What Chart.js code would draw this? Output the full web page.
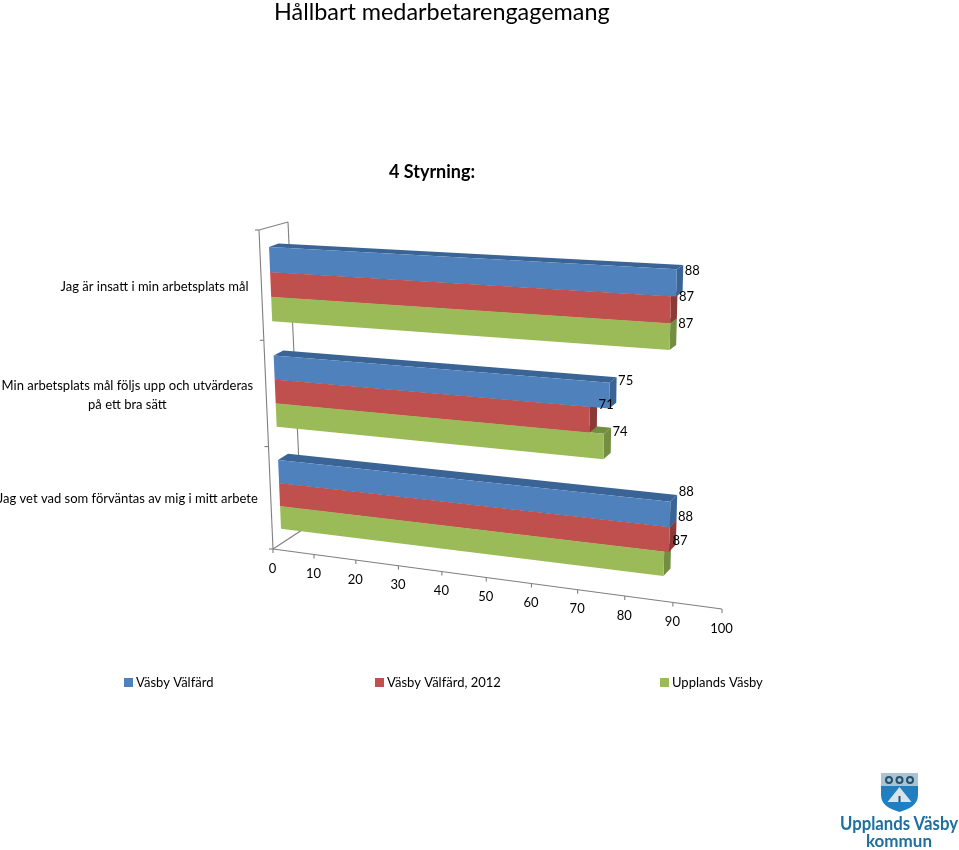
<!DOCTYPE html>
<html>
<head>
<meta charset="utf-8">
<title>Hållbart medarbetarengagemang</title>
<script src="https://cdn.jsdelivr.net/npm/chart.js@4"></script>
<style>
  html, body { margin: 0; padding: 0; background: #fff; }
  #wrap { position: relative; width: 959px; height: 850px; overflow: hidden; }
  #slideTitle { position: absolute; left: 274px; top: -3px; font: 23.4px Lato, sans-serif; color: #000; white-space: nowrap; }
  #logo { position: absolute; left: 838px; top: 770px; width: 121px; height: 80px; }
</style>
</head>
<body>
<div id="wrap">
  <canvas id="chart" width="959" height="850"></canvas>
  <div id="slideTitle">Hållbart medarbetarengagemang</div>
  <svg id="logo" viewBox="838 770 121 80">
    <path d="M881 773h37v22c0 10-9 14-18.500 17c-9.500-3-18.500-7-18.500-17z" fill="#1f7fc0"/>
    <rect x="881" y="773" width="37" height="13" fill="#a9c3d3"/>
    <circle cx="889" cy="780" r="3" fill="none" stroke="#24506e" stroke-width="2"/>
    <circle cx="899.500" cy="780" r="3" fill="none" stroke="#24506e" stroke-width="2"/>
    <circle cx="910" cy="780" r="3" fill="none" stroke="#24506e" stroke-width="2"/>
    <path d="M899.500 787l12 15h-24z" fill="#d9e4ea"/>
    <rect x="898.500" y="796" width="2" height="6" fill="#24506e"/>
    <text x="840" y="830" textLength="118" lengthAdjust="spacingAndGlyphs" font-family="Lato" font-weight="700" font-size="19" fill="#1d6f9f">Upplands Väsby</text>
    <text x="899" y="847" text-anchor="middle" font-family="Lato" font-weight="700" font-size="17" fill="#1d6f9f">kommun</text>
  </svg>
</div>
<script>
const categories = [
  ['Jag är insatt i min arbetsplats mål'],
  ['Min arbetsplats mål följs upp och utvärderas', 'på ett bra sätt'],
  ['Jag vet vad som förväntas av mig i mitt arbete']
];
const seriesNames = ['Väsby Välfärd', 'Väsby Välfärd, 2012', 'Upplands Väsby'];
const valfard = [88, 75, 88];
const valfard2012 = [87, 71, 88];
const upplandsVasby = [87, 74, 87];
const frontColors = ['#4F81BD', '#C0504D', '#9BBB59'];
const sideColors = ['#3A6396', '#8C3A38', '#738E41'];

const FONT = 'Lato, sans-serif';
const labelDy = [5.5, 4, -3];
const legendLeft = [124, 375, 660];

// unit square -> screen quad, corners in order (0,0) (1,0) (1,1) (0,1)
function homography(q) {
  const [p0, p1, p2, p3] = q;
  const sx = p0[0] - p1[0] + p2[0] - p3[0], sy = p0[1] - p1[1] + p2[1] - p3[1];
  const dx1 = p1[0] - p2[0], dx2 = p3[0] - p2[0], dy1 = p1[1] - p2[1], dy2 = p3[1] - p2[1];
  const den = dx1 * dy2 - dx2 * dy1;
  const g = (sx * dy2 - dx2 * sy) / den, h = (dx1 * sy - sx * dy1) / den;
  const a = p1[0] - p0[0] + g * p1[0], b = p3[0] - p0[0] + h * p3[0];
  const d = p1[1] - p0[1] + g * p1[1], e = p3[1] - p0[1] + h * p3[1];
  return (u, v) => {
    const w = g * u + h * v + 1;
    return [(a * u + b * v + p0[0]) / w, (d * u + e * v + p0[1]) / w];
  };
}

const barPlane = homography([[268.3, 229.3], [739.7, 252.8], [726.3, 601.5], [281.7, 544.7]]);
const wallPlane = homography([[259, 230], [735, 258], [722, 609], [273, 549]]);

// how far the bar's back edge sits from its front edge
function depth(u, v) {
  return [9.5 - 3.5 * u + 0.5 * v, -3.3 - 0.7 * u - 4 * v];
}

function poly(ctx, pts, color) {
  ctx.beginPath();
  pts.forEach((p, i) => i ? ctx.lineTo(p[0], p[1]) : ctx.moveTo(p[0], p[1]));
  ctx.closePath();
  ctx.fillStyle = color;
  ctx.fill();
}

function line(ctx, a, b) {
  ctx.beginPath();
  ctx.moveTo(a[0], a[1]);
  ctx.lineTo(b[0], b[1]);
  ctx.stroke();
}

const perspective = {
  id: 'perspective',
  beforeDatasetsDraw(chart) {
    const { ctx, scales: { x, y } } = chart;
    const nu = px => (px - x.left) / x.width;
    const nv = py => (py - y.top) / y.height;

    // walls and axes
    ctx.save();
    ctx.strokeStyle = '#7f7f7f';
    ctx.lineWidth = 1.1;
    const wt = wallPlane(0, 0), wb = wallPlane(0, 1);
    const bt = [wt[0] + 29, wt[1] - 8], bb = [wb[0] + 29, wb[1] - 19];
    line(ctx, wt, wb);
    line(ctx, wt, bt);
    line(ctx, bt, bb);
    line(ctx, wb, bb);
    line(ctx, wb, wallPlane(1, 1));
    for (let i = 0; i <= categories.length; i++) {
      const p = wallPlane(0, i / categories.length);
      line(ctx, p, [p[0] - 4, p[1]]);
    }
    ctx.fillStyle = '#000';
    ctx.font = '13px ' + FONT;
    ctx.textAlign = 'center';
    ctx.textBaseline = 'middle';
    x.ticks.forEach((t, i) => {
      const p = wallPlane(nu(x.getPixelForTick(i)), 1);
      line(ctx, p, [p[0], p[1] + 4]);
      ctx.fillText(t.label, p[0] - 0.5, p[1] + 19.5);
    });
    // category labels, wrapped lines centred on the widest one
    y.ticks.forEach((t, i) => {
      const lines = categories[i];
      const p = wallPlane(0, nv(y.getPixelForTick(i)));
      const w = Math.max(...lines.map(s => ctx.measureText(s).width));
      const cx = p[0] - 13 - w / 2;
      lines.forEach((s, k) => {
        ctx.fillText(s, cx, p[1] + 1 + (k - (lines.length - 1) / 2) * 19);
      });
    });

    // boxes, lowest series first so the one above covers its top face
    const tips = [];
    for (let ds = chart.data.datasets.length - 1; ds >= 0; ds--) {
      chart.getDatasetMeta(ds).data.forEach((bar, i) => {
        const u0 = nu(bar.base), u1 = nu(bar.x);
        const v0 = nv(bar.y - bar.height / 2), v1 = nv(bar.y + bar.height / 2);
        const corner = (u, v) => {
          const p = barPlane(u, v), d = depth(u, v);
          return [p, [p[0] + d[0], p[1] + d[1]]];
        };
        const [tl, tlb] = corner(u0, v0), [tr, trb] = corner(u1, v0);
        const [br, brb] = corner(u1, v1), [bl] = corner(u0, v1);
        poly(ctx, [tl, tlb, trb, tr], sideColors[ds]);
        poly(ctx, [tr, trb, brb, br], sideColors[ds]);
        poly(ctx, [tl, tr, br, bl], frontColors[ds]);
        tips.push({ p: trb, i, value: chart.data.datasets[ds].data[i] });
      });
    }
    ctx.fillStyle = '#000';
    tips.forEach(t => ctx.fillText(t.value, t.p[0] + 9, t.p[1] + labelDy[t.i]));

    // legend, spread wider than the built-in one can go
    ctx.textAlign = 'left';
    chart.data.datasets.forEach((d, i) => {
      ctx.fillStyle = d.backgroundColor;
      ctx.fillRect(legendLeft[i], 678, 9, 9);
      ctx.fillStyle = '#000';
      ctx.fillText(d.label, legendLeft[i] + 12, 682.5);
    });
    ctx.restore();
    return false;
  }
};

const values = [valfard, valfard2012, upplandsVasby];

new Chart(document.getElementById('chart'), {
  type: 'bar',
  data: {
    labels: categories,
    datasets: seriesNames.map((name, i) => ({
      label: name,
      data: values[i],
      backgroundColor: frontColors[i]
    }))
  },
  options: {
    indexAxis: 'y',
    responsive: false,
    animation: false,
    categoryPercentage: 0.68,
    barPercentage: 1,
    layout: { padding: { top: 161, right: 95, bottom: 158 } },
    scales: {
      x: { display: false, min: 0, max: 100, ticks: { stepSize: 10 } },
      y: { display: false }
    },
    plugins: {
      title: {
        display: true,
        text: '4 Styrning:',
        color: '#000',
        font: { family: FONT, size: 18, weight: 'bold' },
        padding: 0
      },
      legend: { display: false },
      tooltip: { enabled: false }
    }
  },
  plugins: [perspective]
});
</script>
</body>
</html>
